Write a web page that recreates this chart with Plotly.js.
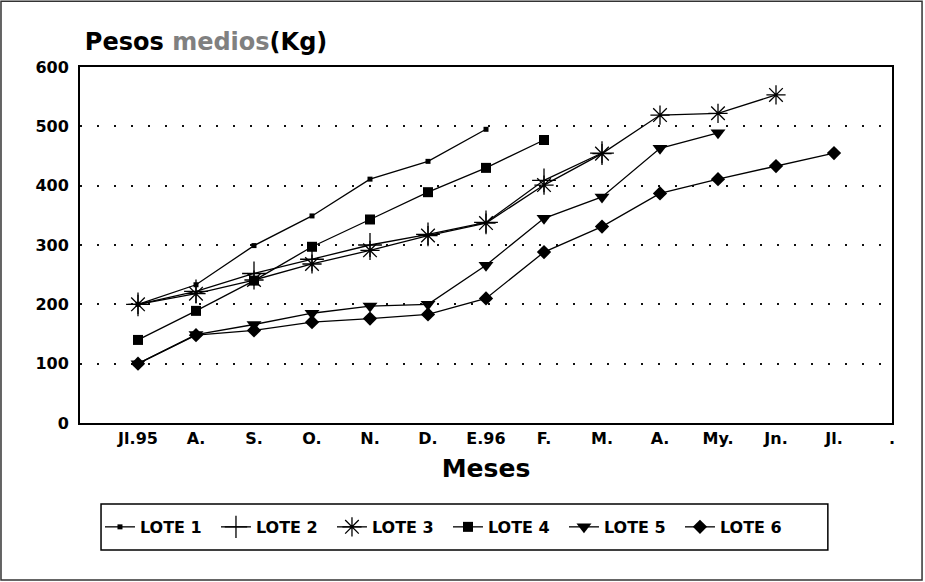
<!DOCTYPE html>
<html>
<head>
<meta charset="utf-8">
<script src="https://cdn.plot.ly/plotly-3.0.1.min.js"></script>
<style>
  html, body { margin: 0; padding: 0; background: #fff; }
  #chart { width: 925px; height: 582px; }
</style>
</head>
<body>
<div id="chart"></div>
<script>
// Month labels (x categories)
var months = ["Jl.95", "A.", "S.", "O.", "N.", "D.", "E.96", "F.", "M.", "A.", "My.", "Jn.", "Jl.", "."];
var yTicks = [0, 100, 200, 300, 400, 500, 600];

// Mean weights (kg) per lot
var lote1 = [200, 233, 299, 349, 411, 441, 495];
var lote2 = [200, 222, 252, 276, 300, 318, 338, 409, 455];
var lote3 = [200, 218, 241, 268, 291, 316, 337, 401, 454, 519, 522, 553];
var lote4 = [140, 189, 240, 297, 343, 389, 430, 477];
var lote5 = [100, 149, 166, 185, 197, 200, 266, 345, 381, 463, 489];
var lote6 = [100, 148, 156, 170, 176, 183, 210, 288, 331, 387, 411, 433, 455];

var names = ["LOTE 1", "LOTE 2", "LOTE 3", "LOTE 4", "LOTE 5", "LOTE 6"];
var seriesList = [lote1, lote2, lote3, lote4, lote5, lote6];

var positions = months.map(function (m, i) { return i + 1; });

var markerStyles = [
  { symbol: "square", size: 5, color: "#000" },
  { symbol: "cross-thin-open", size: 17, color: "#000", line: { width: 1.3, color: "#000" } },
  { symbol: "asterisk-open", size: 16, color: "#000", line: { width: 1.3, color: "#000" } },
  { symbol: "square", size: 10, color: "#000" },
  { symbol: "triangle-down", size: 13, color: "#000" },
  { symbol: "diamond", size: 11, color: "#000" }
];

var traces = seriesList.map(function (vals, k) {
  return {
    type: "scatter",
    mode: "lines+markers",
    name: names[k],
    x: positions.slice(0, vals.length),
    y: vals,
    line: { color: "#000", width: 1.3 },
    marker: markerStyles[k]
  };
});

var fontFam = "DejaVu Sans";

var layout = {
  width: 925,
  height: 582,
  paper_bgcolor: "#fff",
  plot_bgcolor: "#fff",
  margin: { l: 80, r: 33, t: 67, b: 159 },
  showlegend: true,
  font: { family: fontFam, color: "#000", size: 16, weight: "bold" },
  title: {
    text: "Pesos <span style='color:#808080'>medios</span>(Kg)",
    font: { family: fontFam, size: 24, color: "#000", weight: "bold" },
    xref: "paper", x: 0.006, xanchor: "left",
    yref: "container", y: 0.928, yanchor: "middle"
  },
  xaxis: {
    range: [0, 14],
    tickmode: "array",
    tickvals: positions,
    ticktext: months,
    showgrid: false,
    zeroline: false,
    showline: true,
    mirror: true,
    linecolor: "#000",
    linewidth: 2,
    ticks: "",
    tickfont: { family: fontFam, size: 16, color: "#000", weight: "bold" },
    title: {
      text: "Meses",
      font: { family: fontFam, size: 25, color: "#000", weight: "bold" },
      standoff: 12
    },
    fixedrange: true
  },
  yaxis: {
    range: [0, 600],
    tickmode: "array",
    tickvals: yTicks,
    ticktext: yTicks.map(String),
    showgrid: true,
    gridcolor: "#111",
    gridwidth: 2,
    griddash: "2px,15px",
    zeroline: false,
    showline: true,
    mirror: true,
    linecolor: "#000",
    linewidth: 2,
    ticks: "",
    ticklabelstandoff: 6,
    tickfont: { family: fontFam, size: 16, color: "#000", weight: "bold" },
    fixedrange: true
  },
  legend: {
    orientation: "h",
    x: 0.0246, xanchor: "left",
    y: -0.292, yanchor: "middle",
    font: { family: fontFam, size: 16, color: "#000", weight: "bold" },
    bgcolor: "rgba(0,0,0,0)",
    borderwidth: 0,
    itemwidth: 30,
    entrywidth: 71,
    entrywidthmode: "pixels"
  },
  shapes: [
    {
      type: "rect", xref: "paper", yref: "paper",
      x0: 0.0259, x1: 0.921, y0: -0.3567, y1: -0.2275,
      line: { color: "#000", width: 1.5 }
    },
    {
      type: "rect", xref: "paper", yref: "paper",
      x0: -0.0973, x1: 1.037, y0: -0.441, y1: 1.185,
      line: { color: "#333", width: 1.5 }
    }
  ]
};

Plotly.newPlot("chart", traces, layout, { displayModeBar: false, staticPlot: true });
</script>
</body>
</html>
